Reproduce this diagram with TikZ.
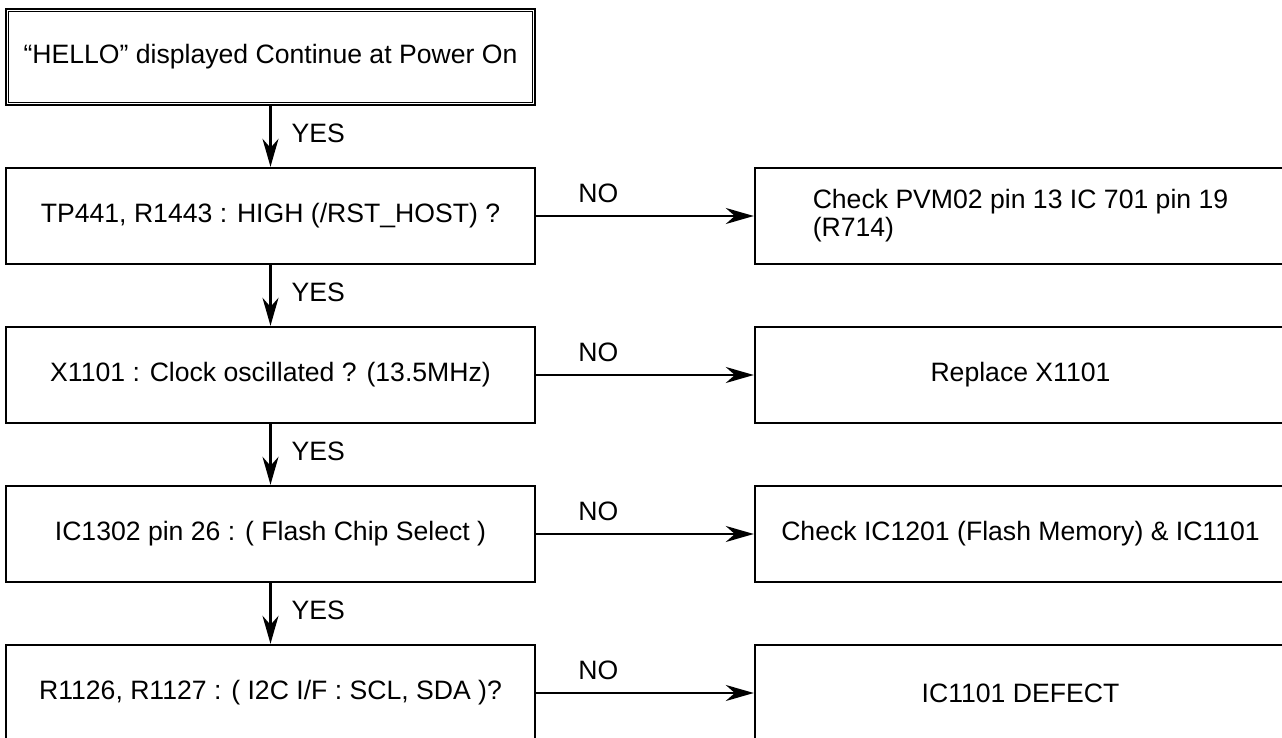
\documentclass[tikz,border=0pt]{standalone}
\usepackage{fontspec}
\setmainfont{Liberation Sans}
\usetikzlibrary{arrows.meta}
\begin{document}
\begin{tikzpicture}[x=0.5pt,y=-0.5pt,
  font=\fontsize{13.3}{14}\selectfont,
  box/.style={draw, line width=1.2pt, minimum width=264.5pt, minimum height=48pt, inner sep=0pt, align=center},
  arr/.style={line width=1.1pt, -{Stealth[length=14pt,width=8pt,inset=4.5pt]}},
  lbl/.style={inner sep=0pt}]
\useasboundingbox (0,0) rectangle (1282,738);
\begin{scope}
\clip (0,0) rectangle (1282,738);
\node[box, line width=1pt] (h) at (270.5,57) {“HELLO” displayed Continue at Power On};
\draw[line width=0.8pt] ([shift={(3.5,3.5)}]h.north west) rectangle ([shift={(-3.5,-3.5)}]h.south east);
\node[box] (b2) at (270.5,216) {TP441, R1443 : HIGH (/RST\_HOST) ?};
\node[box] (b3) at (270.5,375) {X1101 : Clock oscillated ? (13.5MHz)};
\node[box] (b4) at (270.5,534) {IC1302 pin 26 : ( Flash Chip Select )};
\node[box] (b5) at (270.5,693) {R1126, R1127 : ( I2C I/F : SCL, SDA )?};
\node[box, minimum width=265.5pt, align=left] (r2) at (1020.5,216) {Check PVM02 pin 13 IC 701 pin 19\\(R714)};
\node[box, minimum width=265.5pt] (r3) at (1020.5,375) {Replace X1101};
\node[box, minimum width=265.5pt] (r4) at (1020.5,534) {Check IC1201 (Flash Memory) \& IC1101};
\node[box, minimum width=265.5pt] (r5) at (1020.5,693) {IC1101 DEFECT};
\foreach \a/\b in {h/b2,b2/b3,b3/b4,b4/b5}{
  \draw[arr] (\a.south) -- node[lbl, anchor=west, xshift=10pt, yshift=1.5pt]{YES} (\b.north);
}
\foreach \a/\b in {b2/r2,b3/r3,b4/r4,b5/r5}{
  \draw[arr] (\a.east) -- node[lbl, pos=0.286, yshift=11.5pt]{NO} (\b.west);
}
\end{scope}
\end{tikzpicture}
\end{document}
